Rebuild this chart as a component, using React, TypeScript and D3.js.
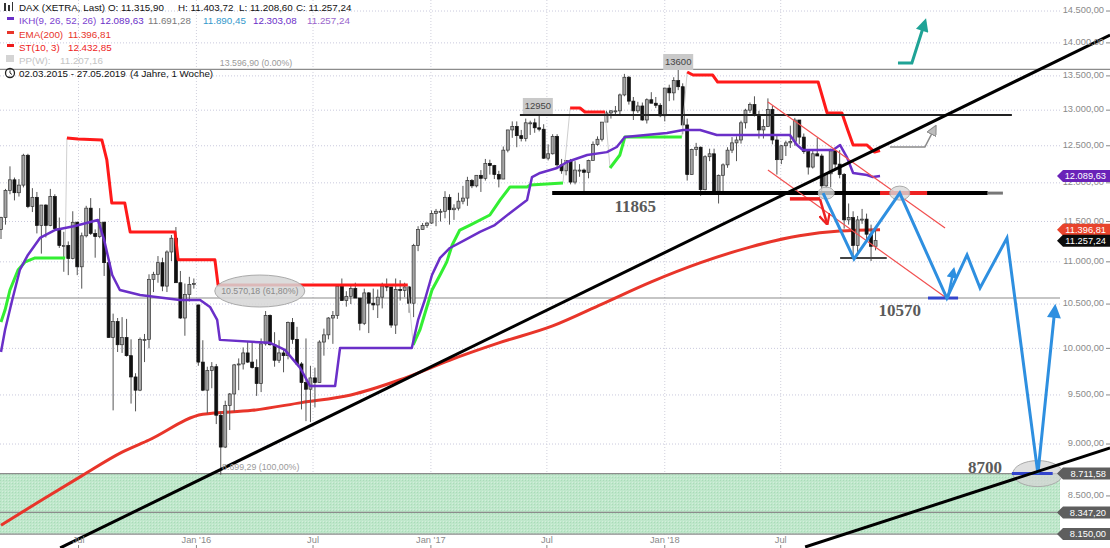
import React from "react";
import * as d3 from "d3";

// ---------------- data ----------------
const FIRST_WEEK = "2015-03-02";

// weekly OHLC, 2015-03-02 .. 2018-11-26
const opens = [
  11400,11550,11900,12040,11870,11970,12370,11690,11810,11450,11710,11450,11820,11410,11200,11200,11040,11490,10940,11320,11670,11350,11310,11490,10990,10120,10300,10040,10120,9920,9690,9550,10100,10100,10790,10850,10990,10710,11120,11290,10750,10340,10610,10730,
  10490,9850,9550,9760,9800,9290,8970,9390,9510,9820,9830,9950,9850,9790,9620,10050,10370,10040,9870,9950,9920,10290,10100,9830,9630,9560,9680,9630,10070,10150,10340,10370,10710,10540,10590,10680,10570,10280,10630,10510,10490,10580,10710,10700,10260,10670,10660,10700,10510,11200,11400,11450,
  11480,11600,11630,11630,11810,11650,11670,11760,11800,12030,11960,12100,12060,12260,12230,12110,12050,12440,12720,12770,12640,12600,12820,12820,12750,12730,12330,12390,12630,12240,12160,12300,12010,12170,12170,12140,12300,12520,12590,12830,12960,12990,12990,13220,13480,13130,12990,13060,12860,13150,13100,13070,
  12920,13320,13250,13430,13340,12790,12110,12450,12480,11910,12350,12390,11890,12100,12240,12440,12540,12580,12820,13000,13080,12940,12720,12770,13010,12580,12310,12500,12540,12560,12860,12620,12420,12210,12390,12360,11960,12120,12430,12250,12110,11520,11550,11200,11520,11530,11340,11190,
];
const highs = [
  11560,11920,12220,12070,12050,12390,12390,11930,11880,11710,11720,11920,11850,11550,11370,11250,11630,11500,11360,11700,11800,11400,11670,11500,11020,10390,10340,10350,10330,10100,9730,10120,10160,10850,10880,11070,11050,11140,11330,11430,10890,10740,10820,10800,
  10490,10090,9800,9850,9830,9330,9440,9520,9830,9890,10010,10070,10080,9880,10110,10420,10380,10180,10090,10000,10300,10340,10240,9850,10110,9810,9790,10090,10220,10350,10420,10720,10800,10650,10720,10750,10570,10680,10640,10680,10670,10750,10800,10700,10800,10780,10750,10710,11220,11440,11480,11490,
  11640,11660,11660,11890,11850,11720,11870,11960,12080,12050,12100,12170,12320,12310,12240,12160,12490,12720,12840,12840,12720,12880,12850,12880,12950,12800,12520,12660,12660,12320,12300,12320,12290,12250,12190,12310,12560,12630,12830,12990,13000,13060,13240,13530,13500,13190,13120,13110,13170,13260,13190,13100,
  13320,13370,13480,13600,13390,12880,12460,12540,12490,12370,12460,12460,12110,12260,12480,12620,12630,12850,13020,13110,13200,12990,12870,13170,13060,12640,12510,12570,12780,12890,12860,12670,12430,12450,12610,12390,12130,12460,12440,12440,12130,11730,11630,11570,11660,11600,11460,11400,
];
const lows = [
  11280,11460,11850,11770,11820,11940,11670,11620,11350,11100,11300,11440,11400,11170,10880,10840,11030,10840,10680,11300,11330,11050,11290,10830,10120,9340,9960,9950,9910,9410,9330,9540,9850,10000,10640,10750,10650,10640,11010,10750,10330,10140,10530,10680,
  9810,9540,9310,9570,9200,8700,8960,9140,9330,9550,9770,9840,9780,9490,9530,10030,10030,9800,9840,9740,9880,10050,9830,9350,9230,9220,9370,9630,9920,10100,10050,10330,10540,10470,10500,10570,10200,10260,10170,10430,10340,10450,10650,10230,10160,10540,10580,10400,10350,11130,11400,11420,
  11470,11440,11500,11540,11460,11520,11640,11720,11700,11930,11940,11880,12030,12110,12050,11940,12050,12410,12610,12480,12560,12560,12650,12680,12700,12320,12300,12380,12210,12120,12100,11980,11980,12080,11870,12060,12300,12500,12560,12830,12880,12940,12940,13200,13080,12860,12960,12850,12810,13100,13030,12900,
  12840,13130,13140,13290,12660,12030,12110,12360,11830,11900,12290,11890,11730,11850,12200,12400,12290,12530,12740,12960,12910,12600,12600,12760,12520,12110,12250,12360,12470,12500,12520,12390,12110,12190,12360,11870,11930,11940,12180,12060,11410,11460,11050,11100,11470,11260,11010,11140,
];
const closes = [
  11550,11900,12040,11870,11970,12370,11690,11810,11450,11710,11450,11820,11410,11200,11200,11040,11490,10940,11320,11670,11350,11310,11490,10990,10120,10300,10040,10120,9920,9690,9550,10100,10100,10790,10850,10990,10710,11120,11290,10750,10340,10610,10730,10740,
  9850,9550,9760,9800,9290,8970,9390,9510,9820,9830,9950,9850,9790,9620,10050,10370,10040,9870,9950,9920,10290,10100,9830,9630,9560,9680,9630,10070,10150,10340,10370,10710,10540,10590,10680,10570,10280,10630,10510,10490,10580,10710,10700,10260,10670,10660,10700,10510,11200,11400,11450,11480,
  11600,11630,11630,11810,11650,11670,11760,11800,12030,11960,12100,12060,12260,12230,12110,12050,12440,12720,12770,12640,12600,12820,12820,12750,12730,12330,12390,12630,12240,12160,12300,12010,12170,12170,12140,12300,12520,12590,12830,12960,12990,12990,13220,13480,13130,12990,13060,12860,13150,13100,13070,12920,
  13320,13250,13430,13340,12790,12110,12450,12480,11910,12350,12390,11890,12100,12240,12440,12540,12580,12820,13000,13080,12940,12720,12770,13010,12580,12310,12500,12540,12560,12860,12620,12420,12210,12390,12360,11960,12120,12430,12250,12110,11520,11550,11200,11520,11530,11340,11190,11260,
];

// EMA(200) (week offset, value)
const emaWeeks = [0,9,18,27,33,45,56,67,78,89,100,111,123,134,145,156,167,178,187,196];
const emaValues = [8230,8460,8690,8920,9040,9300,9340,9420,9500,9660,9870,10060,10250,10500,10760,10990,11180,11320,11380,11397];

// IKH base line (purple)
const ikhWeeks = [0,0.9,2.5,4.2,6,8.7,12,16.5,21.6,23,24.8,26.5,31,39.9,44.4,46.6,48.2,48.8,60,63.3,66.7,68.9,74.5,75.6,91.6,93,94.5,96.1,97.9,100.1,103.5,106.8,110.1,113.5,117.3,118.4,120.2,124,126.2,130.7,135.1,137.3,139.1,148.5,152.1,155.9,159.6,175.9,177.5,178.8,185.5,187.1,188.6,190,193.1,194.4,196];
const ikhValues = [9960,10205,10547,10902,11084,11293,11392,11443,11519,11268,10842,10664,10605,10547,10547,10467,10318,10094,10061,9983,9787,9594,9594,10005,10005,10318,10547,10842,11048,11169,11268,11368,11455,11608,11776,12077,12131,12198,12279,12374,12413,12483,12621,12678,12719,12719,12649,12649,12510,12441,12441,12510,12346,12131,12104,12077,12090];

// SuperTrend(10,3): 1 = up (green), -1 = down (red)
const stWeeks = [0,0.9,2,3.8,5.4,7.6,14.3, 14.7,17.2,22.5,23.6,24.7,27.6,28.8,38.8,39.5,47.7,48.4,90.7, 91.9,93.4,96.1,97.9,99.4,100.6,102.3,104.6,109,111.3,113.5,117.3,118,125.3, 126.9,129.1,130.2,134.7, 135.8,138,139.1,151.8, 153,154.3,158.7,159.8,182.2,184.2,187.5,188.8,190,193.1,194.8,196];
const stValues = [10295,10431,10664,10902,11000,11048,11048, 12607,12593,12579,12306,11737,11737,11368,11368,11024,11024,10722,10722, 10039,10205,10664,10842,11000,11206,11392,11455,11582,11776,11946,11946,11972,11999, 13031,13031,12974,12974, 12198,12374,12621,12621, 13558,13513,13513,13409,13409,12960,12960,12719,12510,12510,12413,12433];
const stDir = [1,1,1,1,1,1,1, -1,-1,-1,-1,-1,-1,-1,-1,-1,-1,-1,-1, 1,1,1,1,1,1,1,1,1,1,1,1,1,1, -1,-1,-1,-1, 1,1,1,1, -1,-1,-1,-1,-1,-1,-1,-1,-1,-1,-1,-1];

// axes
const priceTicks = [8500,9000,9500,10000,10500,11000,11500,12000,12500,13000,13500,14000,14500];
const timeTickDates = ["2015-07-01","2016-01-01","2016-07-01","2017-01-01","2017-07-01","2018-01-01","2018-07-01"];
const timeTickLabels = ["Jul","Jan '16","Jul","Jan '17","Jul","Jan '18","Jul"];

// price levels
const levelTop = 13596.9;
const levelFib = 10570.18;
const levelLow = 8711.58;
const levelMid = 8347.2;
const levelBottom = 8150.0;
const support11865 = 11865;
const resist12930 = 12930;

// right price tags
const tagValues = [12089.63, 11396.81, 11257.24, 8711.58, 8347.2, 8150.0];
const tagColors = ["#6a22b8", "#e8442c", "#0c0c0c", "#5e5e5e", "#5e5e5e", "#5e5e5e"];

// drawn annotations (week offset / price)
const mainTrendWeeks = [13.2, 247.3];
const mainTrendPrices = [8027, 14122];
const lowTrendWeeks = [179.3, 247.3];
const lowTrendPrices = [8035, 8961];
const chanUpWeeks = [171.0, 210.5];
const chanUpPrices = [13117, 11417];
const chanLoWeeks = [171.0, 210.5];
const chanLoPrices = [12171, 10582];
const projWeeks = [183.3, 190.2, 200.4, 210.9, 215.4, 218.3, 224.3, 231.2, 235.0];
const projPrices = [11865, 11035, 11865, 10570, 11084, 10687, 11293, 8711, 10455];
const projArrowWeeks = [211.1, 212.4];
const projArrowPrices = [10570, 10900];
const greyArrowWeeks = [198.2, 206.0, 208.3];
const greyArrowPrices = [12483, 12483, 12760];
const tealArrowWeeks = [200, 203.1, 206];
const tealArrowPrices = [13693, 13693, 14325];
const redArrowWeeks = [182.6, 184.2];
const redArrowPrices = [11790, 11470];

// ---------------- helpers ----------------
const parse = d3.timeParse("%Y-%m-%d");
const START = parse(FIRST_WEEK) as Date;
const weekDate = (w: number) => new Date(START.getTime() + w * 7 * 86400000);
const de = d3.formatLocale({ decimal: ",", thousands: ".", grouping: [3], currency: ["", " €"] });
const fmt = de.format(",.2f");

const FONT = "'Liberation Sans', Arial, sans-serif";
const SERIF = "'Liberation Serif', 'Times New Roman', serif";

export default function App() {
  const W = 1110, H = 548;
  const xs = d3.scaleTime().domain([START, weekDate(247.5)]).range([1, 1111]);
  const ys = d3.scaleLog().domain([8133, 14677]).range([536, 0]);
  const X = (w: number) => xs(weekDate(w));
  const pts = (ws: number[], ps: number[]) => ws.map((w, i) => [X(w), ys(ps[i])] as [number, number]);
  const line = d3.line<[number, number]>();
  const smooth = d3.line<[number, number]>().curve(d3.curveMonotoneX);

  // supertrend segments
  const stSegs: { dir: number; p: [number, number][] }[] = [];
  stWeeks.forEach((w, i) => {
    const pt: [number, number] = [X(w), ys(stValues[i])];
    const last = stSegs[stSegs.length - 1];
    if (!last || last.dir !== stDir[i]) stSegs.push({ dir: stDir[i], p: [pt] });
    else last.p.push(pt);
  });

  const n = Math.min(opens.length, highs.length, lows.length, closes.length);
  const candles = d3.range(n).map((i) => ({ i, o: opens[i], h: highs[i], l: lows[i], c: closes[i] }));

  // axis labels fully hidden behind a price tag are not drawn
  const tagYs = tagValues.map((v) => ys(v));
  const axisTicks = priceTicks.filter((p) => !tagYs.some((ty) => Math.abs(ty - ys(p)) < 6));

  const tag = (v: number, color: string, k: number) => {
    const yc = ys(v);
    const d = `M1057,${yc} L1063,${yc - 6} L1110,${yc - 6} L1110,${yc + 6} L1063,${yc + 6} Z`;
    return (
      <g key={"tag" + k}>
        <path d={d} fill={color} />
        <text x={1106} y={yc} dy="0.35em" textAnchor="end" fontSize={9.3} fill="#fff" fontFamily={FONT}>
          {fmt(v)}
        </text>
      </g>
    );
  };

  const labelBox = (w: number, p: number, text: string, k: string) => {
    const cx = X(w), cy = ys(p);
    return (
      <g key={k}>
        <rect x={cx - 15} y={cy - 8} width={30} height={16} fill="#c9c9c9" />
        <text x={cx} y={cy} dy="0.35em" textAnchor="middle" fontSize={9.5} fill="#444" fontFamily={FONT}>{text}</text>
      </g>
    );
  };

  return (
    <div>
      <style>{"body{margin:0;background:#fff}"}</style>
      <svg width={W} height={H} style={{ display: "block" }} fontFamily={FONT}>
        <defs>
          <marker id="ahBlue" viewBox="0 0 10 10" refX="7" refY="5" markerUnits="userSpaceOnUse" markerWidth="17" markerHeight="14" orient="auto">
            <path d="M0,0 L10,5 L0,10 Z" fill="#2e8fe0" />
          </marker>
          <marker id="ahBlueS" viewBox="0 0 10 10" refX="7" refY="5" markerUnits="userSpaceOnUse" markerWidth="12" markerHeight="11" orient="auto">
            <path d="M0,0 L10,5 L0,10 Z" fill="#2e8fe0" />
          </marker>
          <marker id="ahTeal" viewBox="0 0 10 10" refX="7" refY="5" markerUnits="userSpaceOnUse" markerWidth="15" markerHeight="13" orient="auto">
            <path d="M0,0 L10,5 L0,10 Z" fill="#1fa396" />
          </marker>
          <marker id="ahGrey" viewBox="0 0 10 10" refX="8" refY="5" markerUnits="userSpaceOnUse" markerWidth="11" markerHeight="10" orient="auto">
            <path d="M0,0 L10,5 L0,10 Z" fill="#bdbdbd" stroke="#888" strokeWidth="1" />
          </marker>
          <marker id="ahRed" viewBox="0 0 10 10" refX="9" refY="5" markerUnits="userSpaceOnUse" markerWidth="11" markerHeight="12" orient="auto">
            <path d="M0,0 L10,5 L0,10" fill="none" stroke="#ee2222" strokeWidth="2" />
          </marker>
          <pattern id="dith" width="3" height="3" patternUnits="userSpaceOnUse">
            <rect width="3" height="3" fill="#bfe7cb" />
            <rect width="1" height="1" fill="#a9dcb8" />
            <rect x="2" y="2" width="1" height="1" fill="#d2efdb" />
          </pattern>
        </defs>

        {/* grid */}
        {priceTicks.map((p) => (
          <line key={"g" + p} x1={0} x2={1060} y1={ys(p)} y2={ys(p)} stroke="#c9c9dd" strokeDasharray="1,2" />
        ))}
        {timeTickDates.map((d) => {
          const xx = xs(parse(d) as Date);
          return <line key={"v" + d} x1={xx} x2={xx} y1={0} y2={536} stroke="#d0d0dc" strokeDasharray="1,2" />;
        })}

        {/* shaded support zone */}
        <rect x={0} y={ys(levelLow)} width={1060} height={ys(levelBottom) - ys(levelLow)} fill="url(#dith)" />

        {/* levels */}
        {[
          { p: levelTop, x2: 1110 },
          { p: levelFib, x2: 1060 },
          { p: levelLow, x2: 1060 },
          { p: levelMid, x2: 1060 },
          { p: levelBottom, x2: 1060 },
        ].map((l, k) => (
          <line key={"lv" + k} x1={0} x2={l.x2} y1={ys(l.p)} y2={ys(l.p)} stroke="#8c8c8c" strokeWidth={1.2} />
        ))}

        {/* EMA 200 */}
        <path d={smooth(pts(emaWeeks, emaValues)) || ""} fill="none" stroke="#e8352a" strokeWidth={3} />

        {/* candles */}
        {candles.map((c) => {
          const cx = X(c.i);
          const up = c.c >= c.o;
          const yTop = ys(Math.max(c.o, c.c));
          const yBot = ys(Math.min(c.o, c.c));
          return (
            <g key={"c" + c.i}>
              <line x1={cx} x2={cx} y1={ys(c.h)} y2={ys(c.l)} stroke="#555" strokeWidth={1} />
              <rect x={cx - 1.5} y={yTop} width={3} height={Math.max(1, yBot - yTop)} fill={up ? "#a6a6a6" : "#111"} stroke={up ? "#333" : "#111"} strokeWidth={0.7} />
            </g>
          );
        })}

        {/* supertrend */}
        {stSegs.slice(1).map((s, k) => {
          const a = stSegs[k].p[stSegs[k].p.length - 1];
          const b = s.p[0];
          return <line key={"stc" + k} x1={a[0]} y1={a[1]} x2={b[0]} y2={b[1]} stroke="#cfcfcf" strokeWidth={1} />;
        })}
        {stSegs.map((s, k) => (
          <path key={"st" + k} d={line(s.p) || ""} fill="none" stroke={s.dir > 0 ? "#33ee33" : "#ff1a1a"} strokeWidth={3} strokeLinejoin="round" />
        ))}

        {/* IKH */}
        <path d={line(pts(ikhWeeks, ikhValues)) || ""} fill="none" stroke="#6a2fc8" strokeWidth={2.5} strokeLinejoin="round" />

        {/* horizontal support/resistance drawings */}
        <line x1={X(115.7)} x2={X(225.4)} y1={ys(resist12930)} y2={ys(resist12930)} stroke="#222" strokeWidth={2} />
        <line x1={X(122.9)} x2={X(220.0)} y1={ys(support11865)} y2={ys(support11865)} stroke="#000" strokeWidth={4} />
        <line x1={X(220.0)} x2={X(223.4)} y1={ys(support11865)} y2={ys(support11865)} stroke="#777" strokeWidth={3} />
        <line x1={X(187.1)} x2={X(197.5)} y1={ys(11048)} y2={ys(11048)} stroke="#444" strokeWidth={2} />

        {/* channel */}
        <path d={line(pts(chanUpWeeks, chanUpPrices)) || ""} stroke="#f25050" strokeWidth={1.2} fill="none" />
        <path d={line(pts(chanLoWeeks, chanLoPrices)) || ""} stroke="#f25050" strokeWidth={1.2} fill="none" />

        {/* red marks */}
        <line x1={X(175.9)} x2={X(182.6)} y1={ys(11790)} y2={ys(11790)} stroke="#ee2222" strokeWidth={3.5} />
        <path d={line(pts(redArrowWeeks, redArrowPrices)) || ""} stroke="#ee2222" strokeWidth={2.5} fill="none" markerEnd="url(#ahRed)" />
        <line x1={X(196.0)} x2={X(206.5)} y1={ys(support11865)} y2={ys(support11865)} stroke="#ee2222" strokeWidth={4} />

        {/* ellipses */}
        <ellipse cx={X(184)} cy={ys(support11865)} rx={8} ry={6} fill="#d8d8d8" fillOpacity={0.8} stroke="#aaa" />
        <ellipse cx={X(200.4)} cy={ys(support11865)} rx={10} ry={7} fill="#d8d8d8" fillOpacity={0.8} stroke="#aaa" />
        <ellipse cx={X(231.2)} cy={ys(levelLow)} rx={25} ry={13} fill="#d4d4d4" fillOpacity={0.75} stroke="#aaa" />

        {/* blue projection */}
        <line x1={X(206.7)} x2={X(213.4)} y1={ys(levelFib)} y2={ys(levelFib)} stroke="#3344cc" strokeWidth={3} />
        <line x1={X(225.4)} x2={X(234.5)} y1={ys(levelLow)} y2={ys(levelLow)} stroke="#3344cc" strokeWidth={3} />
        <path d={line(pts(projWeeks, projPrices)) || ""} stroke="#2e8fe0" strokeWidth={3} fill="none" strokeLinejoin="miter" markerEnd="url(#ahBlue)" />
        <path d={line(pts(projArrowWeeks, projArrowPrices)) || ""} stroke="#2e8fe0" strokeWidth={2.5} fill="none" markerEnd="url(#ahBlueS)" />

        {/* grey & teal arrows */}
        <path d={line(pts(greyArrowWeeks, greyArrowPrices)) || ""} stroke="#8a8a8a" strokeWidth={1.5} fill="none" markerEnd="url(#ahGrey)" />
        <path d={line(pts(tealArrowWeeks, tealArrowPrices)) || ""} stroke="#1fa396" strokeWidth={3} fill="none" markerEnd="url(#ahTeal)" />

        {/* trend lines */}
        <path d={line(pts(mainTrendWeeks, mainTrendPrices)) || ""} stroke="#000" strokeWidth={3} fill="none" />
        <path d={line(pts(lowTrendWeeks, lowTrendPrices)) || ""} stroke="#000" strokeWidth={3} fill="none" />

        {/* level texts */}
        <text x={X(48.8)} y={ys(levelTop) - 3} fontSize={8.8} fill="#9a9a9a">13.596,90 (0.00%)</text>
        <text x={X(49.3)} y={ys(levelLow) - 4} fontSize={8.8} fill="#9a9a9a">8.699,29 (100,00%)</text>
        <ellipse cx={X(57.7)} cy={ys(10652)} rx={45} ry={16} fill="#d6d6d6" fillOpacity={0.85} stroke="#aaa" />
        <text x={X(57.7)} y={ys(10652)} dy="0.35em" textAnchor="middle" fontSize={8.8} fill="#8a8a8a">10.570,18 (61,80%)</text>
        {labelBox(119.7, 13060, "12950", "lb1")}
        {labelBox(151, 13708, "13600", "lb2")}

        <text x={X(141.4)} y={ys(11620)} textAnchor="middle" fontSize={17} fontWeight="bold" fill="#5a5a5a" fontFamily={SERIF}>11865</text>
        <text x={X(200.4)} y={ys(10363)} textAnchor="middle" fontSize={17} fontWeight="bold" fill="#5a5a5a" fontFamily={SERIF}>10570</text>
        <text x={X(219.4)} y={ys(8717)} textAnchor="middle" fontSize={17} fontWeight="bold" fill="#5a5a5a" fontFamily={SERIF}>8700</text>

        {/* right axis */}
        {priceTicks.map((p) => (
          <line key={"tk" + p} x1={1106} x2={1110} y1={ys(p)} y2={ys(p)} stroke="#888" />
        ))}
        {axisTicks.map((p) => (
          <text key={"ax" + p} x={1104} y={ys(p) - 1} dy="0.35em" textAnchor="end" fontSize={9.3} fill="#8a8a8a">{fmt(p)}</text>
        ))}
        {tagValues.map((v, k) => tag(v, tagColors[k], k))}

        {/* bottom axis */}
        {timeTickDates.map((d, k) => {
          const xx = xs(parse(d) as Date);
          return (
            <g key={"xt" + d}>
              <text x={xx} y={543} textAnchor="middle" fontSize={9.3} fill="#8a8a8a">{timeTickLabels[k]}</text>
              <line x1={xx} x2={xx} y1={545} y2={548} stroke="#888" />
            </g>
          );
        })}

        {/* legend */}
        <g fontSize={9.8}>
          <g fill="#333">
            <rect x={4} y={3} width={2} height={8} />
            <rect x={8} y={5} width={2} height={6} />
            <rect x={12} y={2} width={1} height={9} />
          </g>
          <text x={19} y={11} fill="#111">DAX (XETRA, Last)</text>
          <text x={108} y={11} fill="#111">O: 11.315,90</text>
          <text x={178} y={11} fill="#111">H: 11.403,72</text>
          <text x={239} y={11} fill="#111">L: 11.208,60</text>
          <text x={296} y={11} fill="#111">C: 11.257,24</text>

          <rect x={7} y={17} width={7} height={3} fill="#6a2fc8" />
          <text x={19} y={24} fill="#7b3fd0">IKH(9, 26, 52, 26)</text>
          <text x={100} y={24} fill="#6a2fc8">12.089,63</text>
          <text x={148} y={24} fill="#7a7a7a">11.691,28</text>
          <text x={203} y={24} fill="#3399cc">11.890,45</text>
          <text x={253} y={24} fill="#6a2fc8">12.303,08</text>
          <text x={307} y={24} fill="#9966cc">11.257,24</text>

          <rect x={7} y={31} width={7} height={3} fill="#e8352a" />
          <text x={19} y={38} fill="#e8352a">EMA(200)</text>
          <text x={68} y={38} fill="#e8352a">11.396,81</text>

          <rect x={7} y={44} width={7} height={3} fill="#ee1c1c" />
          <text x={19} y={51} fill="#ee1c1c">ST(10, 3)</text>
          <text x={68} y={51} fill="#ee1c1c">12.432,85</text>

          <rect x={6} y={55} width={8} height={7} fill="#d4d4d4" />
          <text x={19} y={64} fill="#c4c4c4">PP(W):</text>
          <text x={60} y={64} fill="#c4c4c4">11.207,16</text>

          <circle cx={10} cy={73} r={4.5} fill="none" stroke="#222" strokeWidth={1.3} />
          <path d="M10,70.5 L10,73 L12,74.5" fill="none" stroke="#222" strokeWidth={1} />
          <text x={19} y={77} fill="#111">02.03.2015 - 27.05.2019</text>
          <text x={130} y={77} fill="#111">(4 Jahre, 1 Woche)</text>
        </g>
      </svg>
    </div>
  );
}
